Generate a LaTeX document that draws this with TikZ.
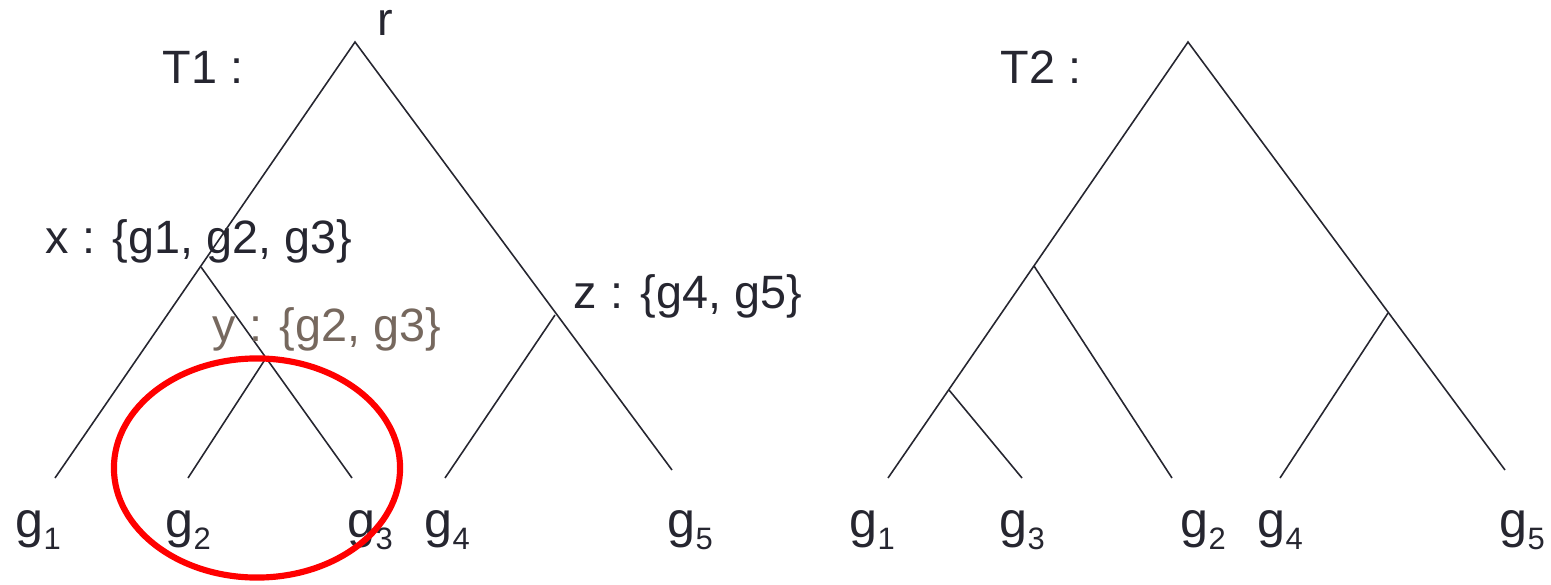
\documentclass[tikz,border=0pt]{standalone}
\usepackage{fontspec}
\setmainfont{Liberation Sans}
\usetikzlibrary{positioning,shapes.geometric}
\definecolor{ink}{HTML}{262630}
\definecolor{taupe}{HTML}{76685E}
\definecolor{alert}{HTML}{FF0000}
\newcommand{\gsub}[1]{g\raisebox{-3.6pt}{\fontsize{8.8pt}{8.8pt}\selectfont #1}}
\tikzset{
  branch/.style={draw=ink,line width=0.45pt},
  lbl/.style={font=\fontsize{13.3pt}{15pt}\selectfont,text=ink,inner sep=0pt,anchor=base west},
  leaf/.style={font=\fontsize{14.3pt}{16pt}\selectfont,text=ink,inner sep=0pt,anchor=base west},
}

\begin{document}
\begin{tikzpicture}[x=0.01cm,y=-0.01cm]
  \useasboundingbox (0,0) rectangle (1551,585);
  % Tree T1
  \coordinate (r1) at (355,42);
  \coordinate (x1) at (201,267);
  \coordinate (y1) at (266,358);
  \coordinate (z1) at (555,315);
  \coordinate (a1) at (55,478);
  \coordinate (a2) at (188,478);
  \coordinate (a3) at (352,478);
  \coordinate (a4) at (445,478);
  \coordinate (a5) at (672,470);
  \draw[branch] (a1) -- (r1) -- (a5);
  \draw[branch] (x1) -- (a3);
  \draw[branch] (y1) -- (a2);
  \draw[branch] (z1) -- (a4);
  \node[lbl] (t1) at (162,84) {T1 :};
  \node[lbl] (rlab) at (377,36) {r};
  \node[lbl] (xlab) at (45,254) {x : \{g1, g2, g3\}};
  \node[lbl,text=taupe] (ylab) at (212,341) {y : \{g2, g3\}};
  \node[lbl] (zlab) at (573,309) {z : \{g4, g5\}};
  \foreach \n/\px in {1/15,2/165,3/347,4/424,5/667}{
    \node[leaf] (l1\n) at (\px,537) {\gsub{\n}};
  }
  % Tree T2
  \coordinate (r2) at (1188,42);
  \coordinate (p2) at (1034,266);
  \coordinate (p3) at (949,390);
  \coordinate (q2) at (1388,313);
  \coordinate (b1) at (888,478);
  \coordinate (b3) at (1022,478);
  \coordinate (b2) at (1172,478);
  \coordinate (b4) at (1280,478);
  \coordinate (b5) at (1505,470);
  \draw[branch] (b1) -- (r2) -- (b5);
  \draw[branch] (p2) -- (b2);
  \draw[branch] (p3) -- (b3);
  \draw[branch] (q2) -- (b4);
  \node[lbl] (t2) at (1000,84) {T2 :};
  \foreach \n/\px in {1/849,3/999,2/1180,4/1257,5/1499}{
    \node[leaf] (l2\n) at (\px,537) {\gsub{\n}};
  }
  % highlighted subtree
  \node[draw=alert,line width=1.75pt,ellipse,minimum width=2.86cm,minimum height=2.19cm,inner sep=0pt] (ring) at (257,468) {};
\end{tikzpicture}
\end{document}
